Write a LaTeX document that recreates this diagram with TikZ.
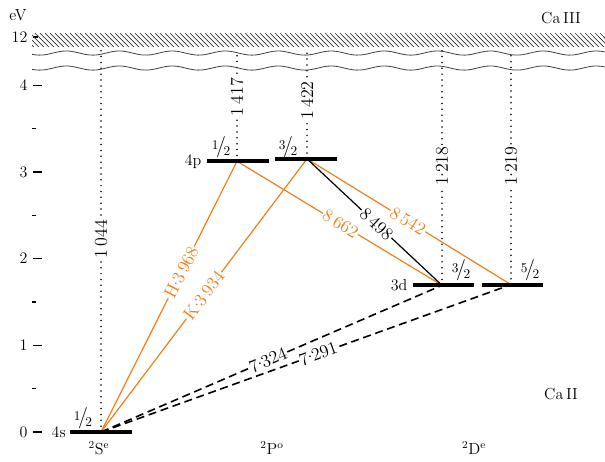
\documentclass[tikz,border=0pt]{standalone}
\usepackage{tikz}
\usetikzlibrary{positioning}
\definecolor{caorange}{RGB}{238,127,29}
\newcommand{\jfrac}[2]{\raisebox{0.45ex}{\fontsize{10}{10}\selectfont#1}\kern-0.15em{\fontsize{16}{16}\selectfont/}\kern-0.15em\raisebox{-0.45ex}{\fontsize{10}{10}\selectfont#2}}
\newcommand{\md}{\kern-0.03em\raisebox{0.6ex}{.}\kern-0.03em}

\begin{document}
\begin{tikzpicture}[x=0.75pt, y=65.025pt,
  every node/.style={font=\fontsize{12}{14}\selectfont, inner sep=1pt},
  level/.style={line width=3.2pt},
  tick/.style={line width=0.9pt},
  ion/.style={line width=1.3pt, line cap=round, dash pattern=on 0pt off 4.4pt},
  allowed/.style={line width=0.9pt, caorange},
  forbidden/.style={line width=1.2pt, dash pattern=on 6pt off 3.5pt},
  wl/.style={fill=white, sloped, inner sep=0.8pt, font=\fontsize{13.5}{15}\selectfont},
  ionlbl/.style={fill=white, rotate=90, inner sep=1pt, font=\fontsize{13.5}{15}\selectfont}]

\useasboundingbox (0,-0.3345) rectangle (605,4.983);

% energy axis
\foreach \e in {0,...,4} {
  \draw[tick] (33,\e) -- (42,\e);
  \node[anchor=east] (t\e) at (29,\e) {\e};
}
\foreach \e in {0.5,1.5,2.5,3.5}
  \draw[tick] (32,\e) -- (36,\e);
\draw[tick] (33,4.556) -- (38,4.556);
\node[anchor=east] (t12) at (29,4.556) {12};
\node (ev) at (18,4.81) {eV};

% levels
\coordinate (s-w) at (70,0);      \coordinate (s-e) at (132,0);
\coordinate (p1-w) at (207,3.123); \coordinate (p1-e) at (269,3.123);
\coordinate (p3-w) at (275,3.151); \coordinate (p3-e) at (337,3.151);
\coordinate (d3-w) at (413,1.692); \coordinate (d3-e) at (474,1.692);
\coordinate (d5-w) at (482,1.700); \coordinate (d5-e) at (543,1.700);

\coordinate (s) at (101,0);
\coordinate (p1) at (237,3.123);
\coordinate (p3) at (307,3.151);
\coordinate (d3) at (442,1.692);
\coordinate (d5) at (511,1.700);

% ionisation limits
\coordinate (s-top) at (101,4.40);
\coordinate (p1-top) at (237,4.40);
\coordinate (p3-top) at (307,4.40);
\coordinate (d3-top) at (442,4.40);
\coordinate (d5-top) at (511,4.40);
\draw[ion] (s) -- node[ionlbl,pos=0.506] (l1044) {1\,044} (s-top);
\draw[ion] (p1) -- node[ionlbl,pos=0.58] (l1417) {1\,417} (p1-top);
\draw[ion] (p3) -- node[ionlbl,pos=0.54] (l1422) {1\,422} (p3-top);
\draw[ion] (d3) -- node[ionlbl,pos=0.508] (l1218) {1\md218} (d3-top);
\draw[ion] (d5) -- node[ionlbl,pos=0.507] (l1219) {1\md219} (d5-top);

% broken scale
\begin{scope}
  \clip (32,4.441) rectangle (605,4.602);
  \foreach \k in {20,25,...,610}
    \draw[line width=0.5pt, black!80] (\k,4.602) -- ++(13.9,-0.161);
\end{scope}
\draw[line width=0.6pt, black!75] plot[domain=32:605, samples=160] (\x,{4.371+0.024*sin(\x/53*360)});
\draw[line width=0.6pt, black!75] plot[domain=32:605, samples=160] (\x,{4.198+0.024*sin(\x/53*360)});
\node (ca3) at (561,4.775) {Ca\,III};
\node (ca2) at (561,0.438) {Ca\,II};

% transitions
\draw[allowed] (s) -- node[wl,pos=0.59,text=caorange] (lH) {H\md3\,968} (p1);
\draw[allowed] (s) -- node[wl,pos=0.5,text=caorange] (lK) {K\md3\,934} (p3);
\draw[allowed] (p1) -- node[wl,pos=0.505,text=caorange] (l8662) {8\,662} (d3);
\draw[allowed] (p3) -- node[wl,pos=0.495,text=caorange] (l8542) {8\,542} (d5);
\draw[line width=0.9pt] (p3) -- node[wl,pos=0.515] (l8498) {8\,498} (d3);
\draw[forbidden] (s) -- node[wl,pos=0.49] (l7324) {7\md324} (d3);
\draw[forbidden] (s) -- node[wl,pos=0.53] (l7291) {7\md291} (d5);

% level bars
\draw[level] (s-w) -- (s-e);
\draw[level] (p1-w) -- (p1-e);
\draw[level] (p3-w) -- (p3-e);
\draw[level] (d3-w) -- (d3-e);
\draw[level] (d5-w) -- (d5-e);
\node[left=2pt of s-w] (n4s) {4s};
\node[left=3pt of p1-w] (n4p) {4p};
\node[left=3pt of d3-w] (n3d) {3d};
\node (j-s) at (83,0.161) {\jfrac12};
\node (j-p1) at (221,3.287) {\jfrac12};
\node (j-p3) at (288,3.287) {\jfrac32};
\node (j-d3) at (461,1.869) {\jfrac32};
\node (j-d5) at (530,1.869) {\jfrac52};

% terms
\node (termS) at (99,-0.185) {\textsuperscript{2}S\textsuperscript{e}};
\node (termP) at (272,-0.185) {\textsuperscript{2}P\textsuperscript{o}};
\node (termD) at (474,-0.185) {\textsuperscript{2}D\textsuperscript{e}};
\end{tikzpicture}
\end{document}
